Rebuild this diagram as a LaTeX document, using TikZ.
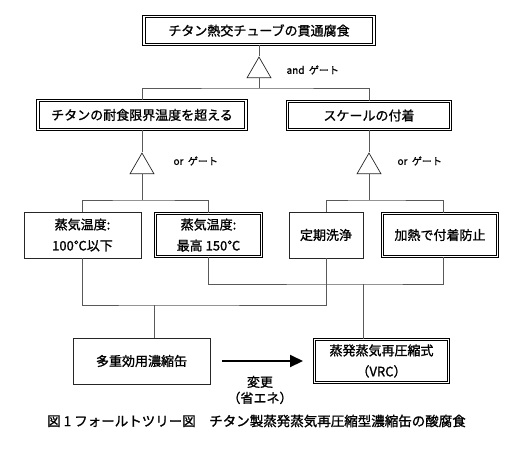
\documentclass[tikz,border=0pt]{standalone}
\usepackage{fontspec}
\setmainfont{Noto Sans CJK JP}[FakeBold=1.2]
\usetikzlibrary{shapes.geometric, arrows.meta}

\begin{document}
\begin{tikzpicture}[x=1pt, y=-1pt,
    box/.style={draw=black!85, line width=0.7pt, inner sep=0pt, align=center,
      font=\fontsize{13pt}{21pt}\selectfont},
    dbox/.style={box, draw=black, double, double distance=1.1pt, line width=1pt},
    gate/.style={draw=black!85, line width=0.7pt, regular polygon, regular polygon sides=3,
      minimum size=27.7pt, inner sep=0pt},
    wire/.style={draw=black!65, line width=0.7pt},
    arr/.style={line width=2pt, -{Triangle[length=13pt, width=12pt]},
      shorten <=12pt, shorten >=11pt},
    lbl/.style={font=\fontsize{10pt}{12pt}\selectfont, anchor=west}]

        \useasboundingbox (0,0) rectangle (518,450);

        \node[dbox, minimum width=230pt, minimum height=28pt] (top) at (259,30.5) {チタン熱交チューブの貫通腐食};
        \node[dbox, minimum width=208pt, minimum height=29pt] (L1) at (142,115) {チタンの耐食限界温度を超える};
        \node[dbox, minimum width=163pt, minimum height=28pt] (R1) at (369,115.5) {スケールの付着};

        \node[gate] (gA) at (259,70.9) {};
        \node[gate] (gL) at (142,166.9) {};
        \node[gate] (gR) at (369,166.9) {};

        \node[lbl] (tA) at (283,70) {and\ \ ゲート};
        \node[lbl] (tL) at (170,161) {or\ \ ゲート};
        \node[lbl] (tR) at (394,161) {or\ \ ゲート};

        \node[box, minimum width=117pt, minimum height=46pt] (b1) at (82.5,235) {蒸気温度:\\100℃以下};
        \node[dbox, minimum width=106pt, minimum height=43pt] (b2) at (208.5,235) {蒸気温度:\\最高 150℃};
        \node[box, minimum width=74pt, minimum height=46pt] (b3) at (326,235) {定期洗浄};
        \node[dbox, minimum width=115pt, minimum height=43pt] (b4) at (440,235) {加熱で付着防止};

        \node[box, minimum width=137pt, minimum height=46pt] (b5) at (141.5,361) {多重効用濃縮缶};
        \node[dbox, minimum width=134pt, minimum height=43pt] (b6) at (381.5,361) {蒸発蒸気再圧縮式\\（VRC）};

        \coordinate (jA) at (259,88);
        \coordinate (jL) at (142,200);
        \coordinate (jR) at (369,200);
        \coordinate (jB) at (154,305);
        \coordinate (jC) at (363,284);

        \draw[wire] (top.south) -- (gA.north);
        \draw[wire] (gA.south) -- (jA);
        \draw[wire] (L1.north) |- (jA) -| (R1.north);

        \draw[wire] (L1.south) -- (gL.north);
        \draw[wire] (gL.south) -- (jL);
        \draw[wire] (b1.north) |- (jL) -| (b2.north);

        \draw[wire] (R1.south) -- (gR.north);
        \draw[wire] (gR.south) -- (jR);
        \draw[wire] (b3.north) |- (jR) -| ([xshift=3pt]b4.north);

        \draw[wire] (b1.south) |- (jB) -| (b3.south);
        \draw[wire] (jB) -- (jB |- b5.north);
        \draw[wire] (b2.south) |- (jC) -| ([xshift=3pt]b4.south);
        \draw[wire] (jC) -- (jC |- b6.north);

        \draw[arr] (b5) -- (b6);
        \node[font=\fontsize{13pt}{16pt}\selectfont, align=center] (chg) at (260,390) {変更\\（省エネ）};

        \node[font=\fontsize{13.5pt}{16pt}\selectfont] (cap) at (256.5,421) {図 1 フォールトツリー図　チタン製蒸発蒸気再圧縮型濃縮缶の酸腐食};

    \end{tikzpicture}
\end{document}
